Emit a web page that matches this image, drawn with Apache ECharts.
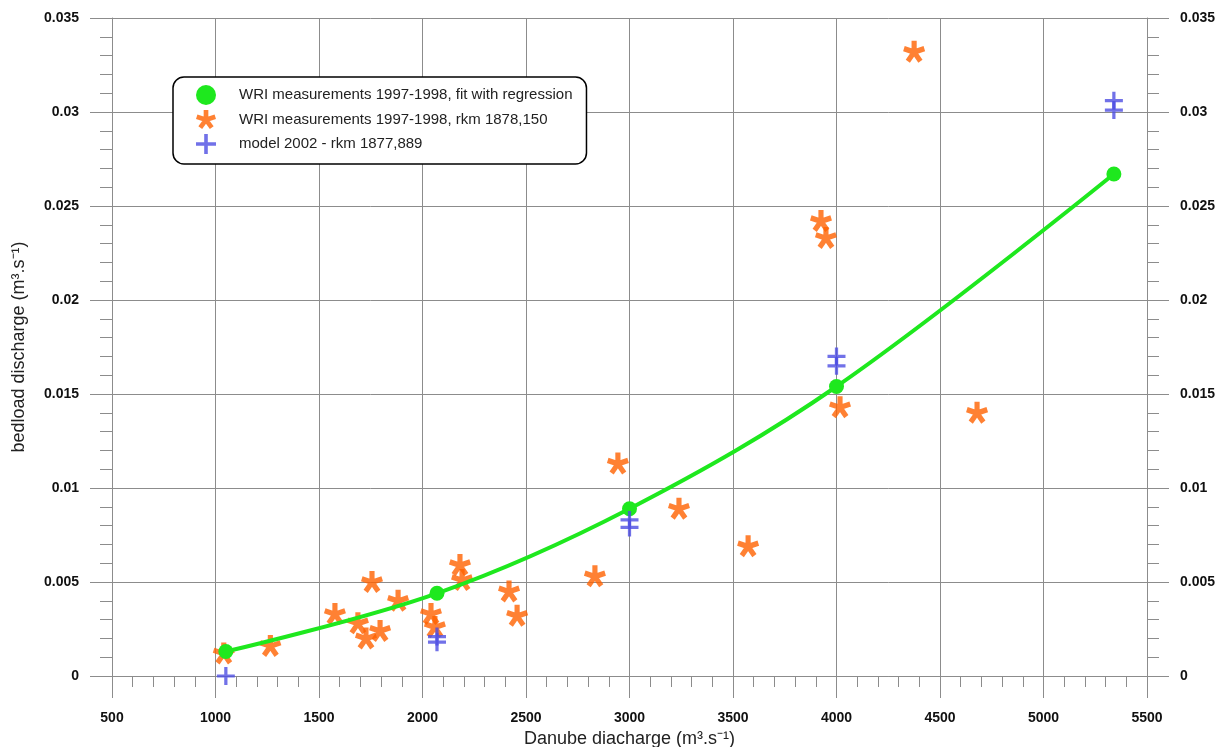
<!DOCTYPE html>
<html>
<head>
<meta charset="utf-8">
<script src="https://cdn.jsdelivr.net/npm/echarts@6/dist/echarts.min.js"></script>
<style>
  html, body { margin: 0; padding: 0; background: #fff; }
  #chart { width: 1223px; height: 747px; }
</style>
</head>
<body>
<div id="chart"></div>
<script>
// Regression curve through the measured points
const fitQ  = [1050, 2070, 3000, 4000, 5340];
const fitQb = [0.0013, 0.0044, 0.0089, 0.0154, 0.0267];

// WRI measurements 1997-1998, rkm 1878,150
const wriQ  = [1040, 1265, 1577, 1688, 1727, 1756, 1795, 1882, 2041, 2060, 2181, 2191,
               2418, 2457, 2833, 2944, 3239, 3573, 3925, 3949, 4017, 4375, 4679];
const wriQb = [0.0012, 0.0016, 0.0033, 0.0028, 0.0020, 0.0050, 0.0024, 0.0040, 0.0033, 0.0026, 0.0059, 0.0051,
               0.0045, 0.0032, 0.0053, 0.0113, 0.0089, 0.0069, 0.0242, 0.0233, 0.0143, 0.0332, 0.0140];

// model 2002 - rkm 1877,889
const modelQ  = [1050, 2070, 2070, 3000, 3000, 4000, 4000, 5340, 5340];
const modelQb = [0.0000, 0.0021, 0.0018, 0.0083, 0.0079, 0.0170, 0.0165, 0.0306, 0.0301];

const seriesNames = [
  'WRI measurements 1997-1998, fit with regression',
  'WRI measurements 1997-1998, rkm 1878,150',
  'model 2002 - rkm 1877,889'
];

const xRange = { min: 500, max: 5500, step: 500 };
const yRange = { min: 0, max: 0.035, step: 0.005 };

const FONT = "'Liberation Sans', Arial, sans-serif";
const GREEN = '#1ee81e';
const ORANGE = '#ff6200';
const BLUE = '#4e4ee2';
const GRID = '#8c8c8c';

// five-armed asterisk glyph built from bars radiating from the centre
function asteriskPath(arms, halfW) {
  const c = 10, L = 10, back = 1.5;
  let d = '';
  for (let i = 0; i < arms; i++) {
    const t = i * 2 * Math.PI / arms;
    const dx = Math.sin(t), dy = -Math.cos(t);
    const px = Math.cos(t), py = Math.sin(t);
    const sx = c - dx * back, sy = c - dy * back;
    const ex = c + dx * L, ey = c + dy * L;
    const pts = [
      [sx + px * halfW, sy + py * halfW],
      [ex + px * halfW, ey + py * halfW],
      [ex - px * halfW, ey - py * halfW],
      [sx - px * halfW, sy - py * halfW]
    ];
    d += 'M' + pts.map(p => p[0].toFixed(2) + ',' + p[1].toFixed(2)).join('L') + 'Z';
  }
  return 'path://' + d;
}
const STAR = asteriskPath(5, 2.4);
const PLUS = 'path://M8.2,0H11.8V8.2H20V11.8H11.8V20H8.2V11.8H0V8.2H8.2Z';

const pair = (xs, ys) => xs.map((x, i) => [x, ys[i]]);

const tickLabel = { fontFamily: FONT, fontSize: 14, fontWeight: 'bold', color: '#111' };

const chart = echarts.init(document.getElementById('chart'), null, { renderer: 'canvas' });
chart.setOption({
  animation: false,
  backgroundColor: '#fff',
  grid: { left: 112, right: 76, top: 18, bottom: 71, containLabel: false, outerBoundsMode: 'none' },
  legend: {
    orient: 'vertical',
    left: 173, top: 77,
    padding: [8, 14, 10, 23],
    itemWidth: 20, itemHeight: 20, itemGap: 5,
    backgroundColor: '#fff',
    borderColor: '#000', borderWidth: 1.5, borderRadius: 11,
    textStyle: { fontFamily: FONT, fontSize: 15, color: '#222', padding: [0, 0, 0, 18] },
    data: [
      { name: seriesNames[0], icon: 'circle', itemStyle: { color: GREEN } },
      { name: seriesNames[1], icon: STAR, itemStyle: { color: ORANGE } },
      { name: seriesNames[2], icon: PLUS, itemStyle: { color: BLUE } }
    ]
  },
  xAxis: {
    type: 'value',
    min: xRange.min, max: xRange.max, interval: xRange.step,
    name: 'Danube diacharge (m³.s⁻¹)',
    nameLocation: 'middle', nameGap: 50,
    nameTextStyle: { fontFamily: FONT, fontSize: 18, color: '#222', verticalAlign: 'top' },
    axisLine: { show: true, lineStyle: { color: GRID, width: 1 } },
    axisTick: { show: true, inside: false, length: 22, lineStyle: { color: GRID } },
    minorTick: { show: true, splitNumber: 5, length: 11, lineStyle: { color: GRID } },
    axisLabel: Object.assign({ margin: 35, formatter: v => String(v) }, tickLabel),
    splitLine: { show: true, lineStyle: { color: GRID, width: 1 } }
  },
  yAxis: [
    {
      type: 'value', position: 'left',
      min: yRange.min, max: yRange.max, interval: yRange.step,
      name: 'bedload discharge (m³.s⁻¹)',
      nameLocation: 'middle', nameGap: 84,
      nameTextStyle: { fontFamily: FONT, fontSize: 18, color: '#222' },
      axisLine: { show: true, lineStyle: { color: GRID, width: 1 } },
      axisTick: { show: true, inside: false, length: 22, lineStyle: { color: GRID } },
      minorTick: { show: true, splitNumber: 5, length: 12, lineStyle: { color: GRID } },
      axisLabel: Object.assign({ margin: 33 }, tickLabel),
      splitLine: { show: true, lineStyle: { color: GRID, width: 1 } }
    },
    {
      type: 'value', position: 'right',
      min: yRange.min, max: yRange.max, interval: yRange.step,
      axisLine: { show: true, lineStyle: { color: GRID, width: 1 } },
      axisTick: { show: true, inside: false, length: 22, lineStyle: { color: GRID } },
      minorTick: { show: true, splitNumber: 5, length: 12, lineStyle: { color: GRID } },
      axisLabel: Object.assign({ margin: 33 }, tickLabel),
      splitLine: { show: false }
    }
  ],
  series: [
    {
      name: seriesNames[1],
      type: 'scatter',
      data: pair(wriQ, wriQb),
      symbol: STAR, symbolSize: 22,
      itemStyle: { color: ORANGE },
      clip: false, z: 2
    },
    {
      name: seriesNames[0],
      type: 'line',
      data: pair(fitQ, fitQb),
      smooth: 0.35,
      symbol: 'circle', symbolSize: 15, showSymbol: true,
      lineStyle: { color: GREEN, width: 4 },
      itemStyle: { color: GREEN },
      clip: false, z: 3
    },
    {
      name: seriesNames[2],
      type: 'scatter',
      data: pair(modelQ, modelQb),
      symbol: PLUS, symbolSize: 18,
      itemStyle: { color: BLUE },
      clip: false, z: 4
    }
  ]
});
</script>
</body>
</html>
